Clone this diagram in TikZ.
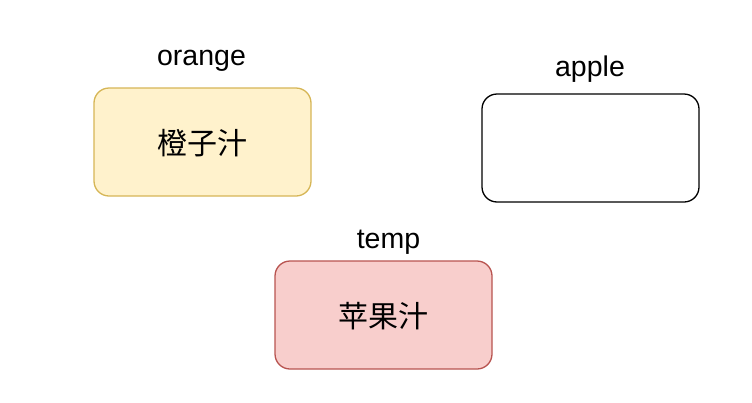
\documentclass[tikz,border=0pt]{standalone}
\usepackage{fontspec}
\setmainfont{Liberation Sans}
\newfontfamily\cjk{Noto Sans CJK SC}
\definecolor{orfill}{HTML}{FFF2CC}
\definecolor{ordraw}{HTML}{D6B656}
\definecolor{rdfill}{HTML}{F8CECC}
\definecolor{rddraw}{HTML}{B85450}
\tikzset{
  boxnode/.style={rounded corners=15pt, minimum width=217pt, minimum height=108pt, line width=1.3pt, inner sep=0pt},
  cjktext/.style={inner sep=0pt, font=\cjk\fontsize{30}{32}\selectfont},
  lbl/.style={anchor=base, inner sep=0pt, font=\fontsize{28.5}{30}\selectfont}
}
\begin{document}
\begin{tikzpicture}[x=1pt,y=-1pt]
\useasboundingbox (0,0) rectangle (752,402);
\node[boxnode, draw=ordraw, fill=orfill] (orangebox) at (202.5,142) {};
\node[boxnode, draw=black, fill=white] (applebox) at (590.5,148) {};
\node[boxnode, draw=rddraw, fill=rdfill] (tempbox) at (383.5,315) {};
\node[cjktext] (orangetext) at ([yshift=-1.5pt]orangebox.center) {橙子汁};
\node[cjktext] (temptext) at ([yshift=-1.5pt]tempbox.center) {苹果汁};
\node[lbl] (orangelbl) at (201.5,65.5) {orange};
\node[lbl] (applelbl) at (590,76) {apple};
\node[lbl] (templbl) at (388.5,248) {temp};
\end{tikzpicture}
\end{document}
